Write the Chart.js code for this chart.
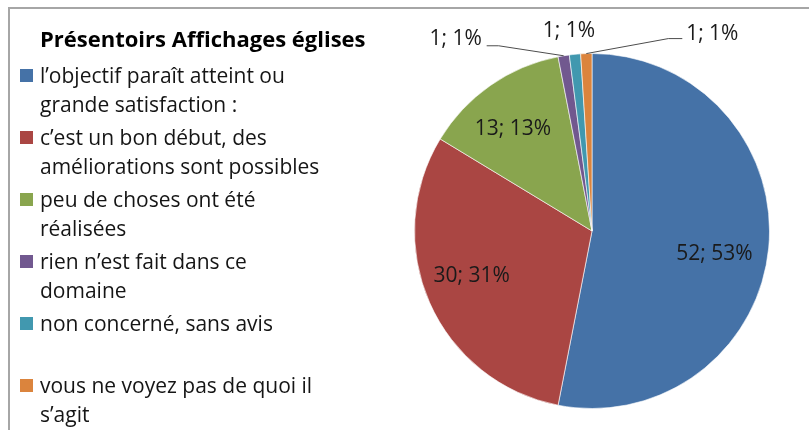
<!DOCTYPE html>
<html>
<head>
<meta charset="utf-8">
<script src="https://cdn.jsdelivr.net/npm/chart.js@4/dist/chart.umd.min.js"></script>
<style>
  html, body { margin:0; padding:0; background:#fff; }
  #wrap { position:relative; width:809px; height:430px; overflow:hidden; font-family: "Open Sans", sans-serif; }
  #frame { position:absolute; left:8px; top:7px; width:900px; height:600px; border-top:2px solid #a6a6a6; border-left:2px solid #a6a6a6; }
  #chart { position:absolute; left:0; top:0; }
  #title { position:absolute; left:40px; top:38px; transform:translateY(-50%); font-weight:bold; font-size:22px; line-height:30px; color:#000; white-space:nowrap; }
  #legend { position:absolute; left:20px; top:61px; }
  .item { position:relative; height:62px; }
  .sw { position:absolute; left:0; top:8px; width:13px; height:13px; }
  .txt { position:absolute; left:20px; top:0; font-size:21px; line-height:29px; color:#151515; white-space:nowrap; }
</style>
</head>
<body>
<div id="wrap">
  <div id="frame"></div>
  <canvas id="chart" width="809" height="430"></canvas>
  <div id="title"></div>
  <div id="legend"></div>
</div>
<script>
const chartTitle = "Présentoirs Affichages églises";
const categories = [
  ["l’objectif paraît atteint ou", "grande satisfaction :"],
  ["c’est un bon début, des", "améliorations sont possibles"],
  ["peu de choses ont été", "réalisées"],
  ["rien n’est fait dans ce", "domaine"],
  ["non concerné, sans avis"],
  ["vous ne voyez pas de quoi il", "s’agit"]
];
const values = [52, 30, 13, 1, 1, 1];
const colors = ["#4572A7", "#AA4643", "#89A54E", "#71588F", "#4198AF", "#DB843D"];

document.getElementById('title').textContent = chartTitle;
const leg = document.getElementById('legend');
categories.forEach((lines, i) => {
  const it = document.createElement('div'); it.className = 'item';
  const sw = document.createElement('div'); sw.className = 'sw'; sw.style.background = colors[i];
  const tx = document.createElement('div'); tx.className = 'txt'; tx.innerHTML = lines.map(l => l.replace(/&/g,'&amp;').replace(/</g,'&lt;')).join('<br>');
  it.appendChild(sw); it.appendChild(tx); leg.appendChild(it);
});

const sliceLabels = {
  id: 'sliceLabels',
  afterDatasetsDraw(chart, args, opts) {
    const ctx = chart.ctx;
    const meta = chart.getDatasetMeta(0);
    const data = chart.data.datasets[0].data;
    const total = data.reduce((a, b) => a + b, 0);
    ctx.save();
    ctx.font = opts.font;
    ctx.fillStyle = opts.color;
    ctx.textAlign = 'center';
    ctx.textBaseline = 'middle';
    meta.data.forEach((arc, i) => {
      const p = arc.getProps(['x', 'y', 'startAngle', 'endAngle', 'outerRadius'], true);
      const mid = (p.startAngle + p.endAngle) / 2;
      const text = data[i] + '; ' + Math.round(data[i] / total * 100) + '%';
      const out = opts.outside[i];
      if (!out) {
        const off = opts.insideOffsets[i] || [0, 0];
        const r = p.outerRadius * opts.insideFraction;
        ctx.fillText(text, p.x + Math.cos(mid) * r + off[0], p.y + Math.sin(mid) * r + off[1]);
      } else {
        const ax = p.x + Math.cos(mid) * p.outerRadius;
        const ay = p.y + Math.sin(mid) * p.outerRadius;
        if (out.line) {
          ctx.beginPath();
          ctx.strokeStyle = opts.lineColor;
          ctx.lineWidth = 1;
          ctx.moveTo(ax, ay);
          out.line.forEach(pt => ctx.lineTo(ax + pt[0], ay + pt[1]));
          ctx.stroke();
        }
        ctx.fillText(text, ax + out.label[0], ay + out.label[1]);
      }
    });
    ctx.restore();
  }
};

new Chart(document.getElementById('chart'), {
  type: 'pie',
  data: {
    labels: categories,
    datasets: [{
      data: values,
      backgroundColor: colors,
      borderColor: 'rgba(255,255,255,0.6)',
      borderWidth: 1
    }]
  },
  options: {
    responsive: false,
    animation: false,
    layout: { padding: { left: 414, right: 39, top: 53, bottom: 21 } },
    plugins: {
      legend: { display: false },
      tooltip: { enabled: false },
      sliceLabels: {
        font: '21px "Open Sans", sans-serif',
        color: '#1a1a1a',
        lineColor: '#4d4d4d',
        insideFraction: 0.71,
        insideOffsets: [[-3, 11], [-5, -6], [-7, 1]],
        outside: {
          3: { label: [-108, -17], line: [[-65, -10], [-77, -10]] },
          4: { label: [-6, -23] },
          5: { label: [126, -20], line: [[82, -15], [96, -15]] }
        }
      }
    }
  },
  plugins: [sliceLabels]
});
</script>
</body>
</html>
